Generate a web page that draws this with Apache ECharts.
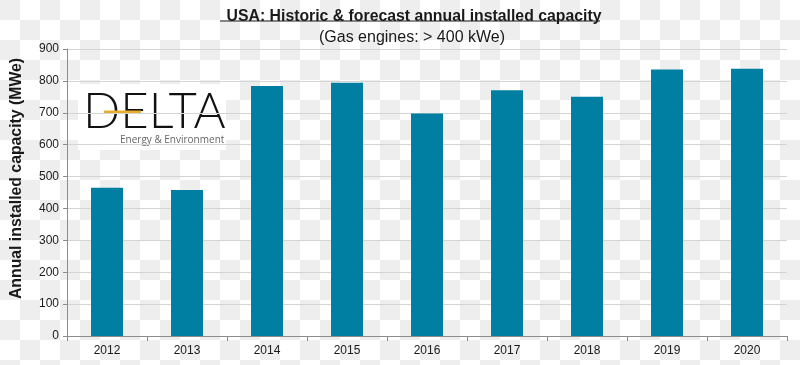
<!DOCTYPE html>
<html><head><meta charset="utf-8">
<script src="https://cdn.jsdelivr.net/npm/echarts@6/dist/echarts.min.js"></script>
<style>html,body{margin:0;padding:0;background:#fff}#c{width:800px;height:365px}</style>
</head><body><div id="c"></div>
<script>
const categories = ['2012','2013','2014','2015','2016','2017','2018','2019','2020'];
const capacity = [465, 458, 784, 794, 698, 771, 750, 836, 838];
const yTicks = [0, 100, 200, 300, 400, 500, 600, 700, 800, 900];
const titleText = 'USA: Historic & forecast annual installed capacity';
const subtitleText = '(Gas engines: > 400 kWe)';
const yName = 'Annual installed capacity (MWe)';

// checkerboard background
const pc = document.createElement('canvas');
pc.width = 40; pc.height = 40;
const pctx = pc.getContext('2d');
pctx.fillStyle = '#ffffff'; pctx.fillRect(0,0,40,40);
pctx.fillStyle = '#eeeeee'; pctx.fillRect(0,0,20,20); pctx.fillRect(20,20,20,20);

const chart = echarts.init(document.getElementById('c'), null, {renderer:'canvas'});
chart.setOption({
  backgroundColor: {image: pc, repeat: 'repeat'},
  animation: false,
  title: [
    {text: titleText, left: 409, top: 4, textAlign: 'center',
     textStyle: {fontFamily: 'Liberation Sans, Arial', fontSize: 15.8, fontWeight: 'bold', color: '#1a1a1a'}},
    {text: subtitleText, left: 407, top: 25, textAlign: 'center',
     textStyle: {fontFamily: 'Liberation Sans, Arial', fontSize: 16, fontWeight: 'normal', color: '#1a1a1a'}}
  ],
  grid: {left: 67, right: 13, top: 49, bottom: 29, containLabel: false},
  xAxis: {
    type: 'category', data: categories,
    axisLine: {lineStyle: {color: '#8c8c8c', width: 1}},
    axisTick: {show: true, length: 5, lineStyle: {color: '#8c8c8c'}},
    axisLabel: {color: '#1a1a1a', fontFamily: 'Liberation Sans, Arial', fontSize: 12, margin: 9}
  },
  yAxis: {
    type: 'value', min: yTicks[0], max: yTicks[yTicks.length-1], interval: 100,
    name: yName, nameLocation: 'middle', nameGap: 42, nameRotate: 90,
    nameTextStyle: {fontFamily: 'Liberation Sans, Arial', fontSize: 15.8, fontWeight: 'bold', color: '#1a1a1a', padding: [0, 0, 0, 28]},
    axisLine: {show: true, lineStyle: {color: '#8c8c8c'}},
    axisTick: {show: true, length: 4, lineStyle: {color: '#8c8c8c'}},
    axisLabel: {color: '#1a1a1a', fontFamily: 'Liberation Sans, Arial', fontSize: 12, margin: 8},
    splitLine: {lineStyle: {color: '#d4d4d4', width: 1}}
  },
  series: [{
    type: 'bar', data: capacity, barWidth: '40%',
    itemStyle: {color: '#007fa3'}
  }],
  graphic: [
    {type: 'line', shape: {x1: 220, y1: 21, x2: 600, y2: 21}, style: {stroke: '#1a1a1a', lineWidth: 1.2}},
    {type: 'rect', shape: {x: 78, y: 84, width: 148, height: 66}, style: {fill: '#ffffff'}},
    {type: 'text', left: 83, top: 88, style: {text: 'DELTA', fontFamily: 'Lato, Open Sans, sans-serif', fontWeight: 300, fontSize: 49, fill: '#111', letterSpacing: 1}},
    {type: 'line', shape: {x1: 104, y1: 112, x2: 141, y2: 112}, style: {stroke: '#e8ae2b', lineWidth: 3}},
    {type: 'text', left: 120, top: 135, style: {text: 'Energy & Environment', fontFamily: 'Open Sans, sans-serif', fontSize: 10, fill: '#666'}}
  ]
});
</script></body></html>
